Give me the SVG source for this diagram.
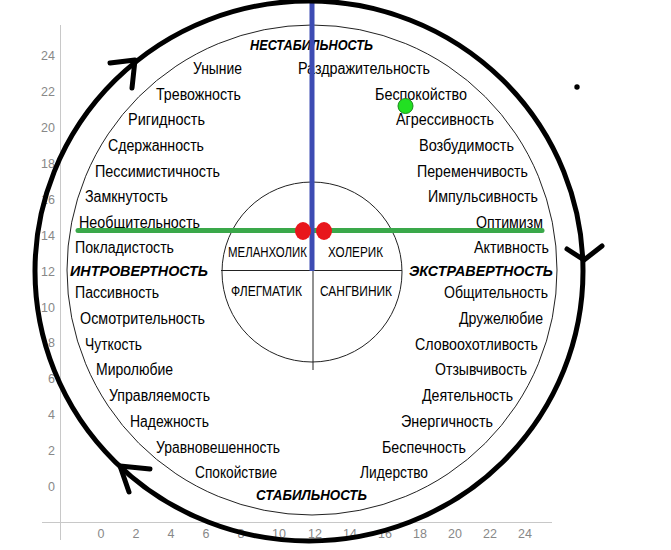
<svg xmlns="http://www.w3.org/2000/svg" width="671" height="550" viewBox="0 0 671 550">
<style>
.ax{font-family:"Liberation Sans",Arial,sans-serif;font-size:12.5px;fill:#888}
.t{font-family:"Liberation Sans",Arial,sans-serif;font-size:16px;fill:#000}
.b{font-family:"Liberation Sans",Arial,sans-serif;font-size:15.5px;font-weight:bold;font-style:italic;fill:#000}
.c{font-family:"Liberation Sans",Arial,sans-serif;font-size:15px;fill:#000}
.thin{fill:none;stroke:#222;stroke-width:1}
.arrow{fill:none;stroke:#000;stroke-width:5;stroke-linecap:round;stroke-linejoin:round}
</style>
<rect width="671" height="550" fill="#fff"/>
<g id="axes">
<line x1="60.5" y1="25" x2="60.5" y2="540" stroke="#c8c8c8" stroke-width="1"/>
<line x1="42" y1="522.5" x2="552" y2="522.5" stroke="#c8c8c8" stroke-width="1"/>
<g class="ax" text-anchor="end">
<text x="55" y="60">24</text><text x="55" y="96">22</text><text x="55" y="132">20</text><text x="55" y="168">18</text>
<text x="55" y="204">16</text><text x="55" y="240">14</text><text x="55" y="276">12</text><text x="55" y="312">10</text>
<text x="55" y="347">8</text><text x="55" y="383">6</text><text x="55" y="419">4</text><text x="55" y="455">2</text><text x="55" y="491">0</text>
</g>
<g class="ax" text-anchor="middle">
<text x="101" y="538">0</text><text x="136" y="538">2</text><text x="171" y="538">4</text><text x="206" y="538">6</text>
<text x="241" y="538">8</text><text x="279" y="538">10</text><text x="315" y="538">12</text><text x="350" y="538">14</text>
<text x="385" y="538">16</text><text x="420" y="538">18</text><text x="455" y="538">20</text><text x="490" y="538">22</text><text x="525" y="538">24</text>
</g>
</g>
<g id="wheel">
<circle class="thin" cx="312" cy="270" r="245"/>
</g>
<g id="temperaments">
<circle class="thin" cx="312" cy="272" r="90"/>
<line class="thin" x1="221" y1="270.5" x2="402" y2="270.5"/>
<line class="thin" x1="313" y1="270" x2="313" y2="370"/>
<text class="c" x="228" y="257" textLength="79" lengthAdjust="spacingAndGlyphs">МЕЛАНХОЛИК</text>
<text class="c" x="328" y="257" textLength="55" lengthAdjust="spacingAndGlyphs">ХОЛЕРИК</text>
<text class="c" x="231" y="296" textLength="71" lengthAdjust="spacingAndGlyphs">ФЛЕГМАТИК</text>
<text class="c" x="320" y="296" textLength="72" lengthAdjust="spacingAndGlyphs">САНГВИНИК</text>
</g>
<g id="poles">
<text class="b" x="250" y="50" textLength="123" lengthAdjust="spacingAndGlyphs">НЕСТАБИЛЬНОСТЬ</text>
<text class="b" x="70" y="276" textLength="138" lengthAdjust="spacingAndGlyphs">ИНТРОВЕРТНОСТЬ</text>
<text class="b" x="409" y="276" textLength="144" lengthAdjust="spacingAndGlyphs">ЭКСТРАВЕРТНОСТЬ</text>
<text class="b" x="256" y="500" textLength="111" lengthAdjust="spacingAndGlyphs">СТАБИЛЬНОСТЬ</text>
</g>
<g id="traits-left">
<text class="t" x="193" y="74" textLength="49" lengthAdjust="spacingAndGlyphs">Уныние</text>
<text class="t" x="156" y="100" textLength="85" lengthAdjust="spacingAndGlyphs">Тревожность</text>
<text class="t" x="128" y="125" textLength="77" lengthAdjust="spacingAndGlyphs">Ригидность</text>
<text class="t" x="108" y="151" textLength="96" lengthAdjust="spacingAndGlyphs">Сдержанность</text>
<text class="t" x="95" y="177" textLength="125" lengthAdjust="spacingAndGlyphs">Пессимистичность</text>
<text class="t" x="85" y="202" textLength="83" lengthAdjust="spacingAndGlyphs">Замкнутость</text>
<text class="t" x="79" y="228" textLength="121" lengthAdjust="spacingAndGlyphs">Необщительность</text>
<text class="t" x="75" y="253" textLength="99" lengthAdjust="spacingAndGlyphs">Покладистость</text>
<text class="t" x="75" y="298" textLength="84" lengthAdjust="spacingAndGlyphs">Пассивность</text>
<text class="t" x="80" y="324" textLength="125" lengthAdjust="spacingAndGlyphs">Осмотрительность</text>
<text class="t" x="85" y="350" textLength="57" lengthAdjust="spacingAndGlyphs">Чуткость</text>
<text class="t" x="96" y="375" textLength="77" lengthAdjust="spacingAndGlyphs">Миролюбие</text>
<text class="t" x="109" y="401" textLength="101" lengthAdjust="spacingAndGlyphs">Управляемость</text>
<text class="t" x="130" y="427" textLength="79" lengthAdjust="spacingAndGlyphs">Надежность</text>
<text class="t" x="156" y="453" textLength="124" lengthAdjust="spacingAndGlyphs">Уравновешенность</text>
<text class="t" x="195" y="478" textLength="82" lengthAdjust="spacingAndGlyphs">Спокойствие</text>
</g>
<g id="traits-right">
<text class="t" x="298" y="74" textLength="132" lengthAdjust="spacingAndGlyphs">Раздражительность</text>
<text class="t" x="375" y="100" textLength="92" lengthAdjust="spacingAndGlyphs">Беспокойство</text>
<text class="t" x="396" y="125" textLength="98" lengthAdjust="spacingAndGlyphs">Агрессивность</text>
<text class="t" x="419" y="151" textLength="95" lengthAdjust="spacingAndGlyphs">Возбудимость</text>
<text class="t" x="417" y="177" textLength="111" lengthAdjust="spacingAndGlyphs">Переменчивость</text>
<text class="t" x="428" y="202" textLength="110" lengthAdjust="spacingAndGlyphs">Импульсивность</text>
<text class="t" x="476" y="228" textLength="67" lengthAdjust="spacingAndGlyphs">Оптимизм</text>
<text class="t" x="474" y="253" textLength="75" lengthAdjust="spacingAndGlyphs">Активность</text>
<text class="t" x="444" y="298" textLength="104" lengthAdjust="spacingAndGlyphs">Общительность</text>
<text class="t" x="459" y="324" textLength="84" lengthAdjust="spacingAndGlyphs">Дружелюбие</text>
<text class="t" x="415" y="350" textLength="123" lengthAdjust="spacingAndGlyphs">Словоохотливость</text>
<text class="t" x="435" y="375" textLength="92" lengthAdjust="spacingAndGlyphs">Отзывчивость</text>
<text class="t" x="422" y="401" textLength="91" lengthAdjust="spacingAndGlyphs">Деятельность</text>
<text class="t" x="401" y="427" textLength="92" lengthAdjust="spacingAndGlyphs">Энергичность</text>
<text class="t" x="382" y="453" textLength="84" lengthAdjust="spacingAndGlyphs">Беспечность</text>
<text class="t" x="360" y="478" textLength="68" lengthAdjust="spacingAndGlyphs">Лидерство</text>
</g>
<g id="connectors">
<line x1="78" y1="230.5" x2="542" y2="230.5" stroke="#3aa84a" stroke-width="5" stroke-linecap="round"/>
<line x1="312" y1="0" x2="312" y2="271" stroke="#3d4cb3" stroke-width="5"/>
<ellipse cx="309" cy="271" rx="274" ry="270" fill="none" stroke="#000" stroke-width="5"/>
<polyline class="arrow" points="110,63 135,60 132,88"/>
<polyline class="arrow" points="567,249 584,260 602,246"/>
<polyline class="arrow" points="150,469 120,466 129,492"/>
</g>
<g id="markers">
<ellipse cx="303" cy="231" rx="8" ry="9" fill="#e8161c"/>
<ellipse cx="324" cy="231" rx="8" ry="9" fill="#e8161c"/>
<circle cx="405.5" cy="106" r="7.5" fill="#22e022" stroke="#1a8a1a" stroke-width="1"/>
<circle cx="577" cy="87" r="2.7" fill="#000"/>
</g>
</svg>
